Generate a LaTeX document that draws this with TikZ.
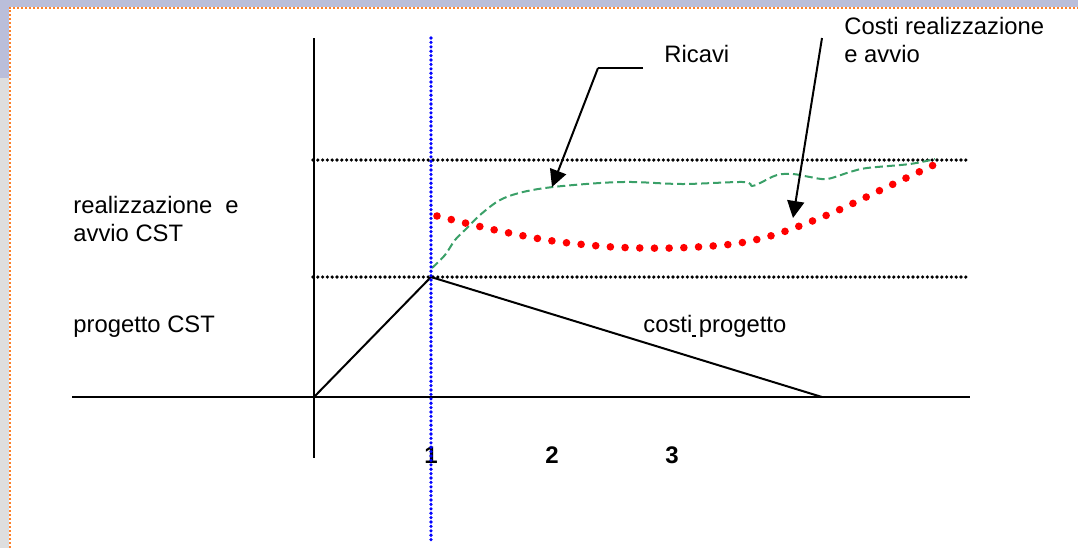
\documentclass[tikz,border=0pt]{standalone}
\usepackage{fontspec}
\setmainfont{Liberation Sans}
\usetikzlibrary{arrows.meta}

\definecolor{slidebar}{RGB}{186,190,218}
\definecolor{slidegray}{RGB}{222,222,222}
\definecolor{slideedge}{RGB}{255,128,40}
\definecolor{ricavi}{RGB}{58,160,104}

\begin{document}
\begin{tikzpicture}[x=0.5pt, y=-0.5pt,
    lbl/.style={anchor=base west, inner sep=0pt, font=\fontsize{11.9}{14}\selectfont},
    num/.style={anchor=base, inner sep=0pt, font=\fontsize{12}{14}\selectfont\bfseries},
    arr/.style={-{Triangle[length=8.5pt,width=8.5pt]}, line width=1pt},
    axis/.style={line width=1pt},
    dotline/.style={line width=1.8pt, line cap=round, dash pattern=on 0pt off 2.4pt},
    bluedots/.style={blue, line width=1.8pt, line cap=round, dash pattern=on 0pt off 2.2pt},
    reddots/.style={red, line width=3.8pt, line cap=round, dash pattern=on 0pt off 7.35pt},
    greendash/.style={ricavi, line width=1pt, dash pattern=on 4pt off 2pt}
]
\useasboundingbox (0,0) rectangle (1078,548);
\fill[slidebar] (0,0) rectangle (1078,7);
\fill[slidebar] (0,0) rectangle (9,78);
\fill[slidegray] (0,78) rectangle (9,548);
\draw[slideedge, line width=1pt, dash pattern=on 1pt off 1pt] (9.5,548) -- (9.5,7.5) -- (1078,7.5);

\coordinate (O) at (314,397);
\coordinate (P) at (431,277);
\coordinate (E) at (822,397);
\coordinate (ytop) at (314,38);
\coordinate (ybot) at (314,458);
\coordinate (xl) at (72,397);
\coordinate (xr) at (970,397);
\coordinate (hi1) at (313,160);
\coordinate (hi2) at (970,160);
\coordinate (lo1) at (313,277);
\coordinate (lo2) at (968,277);
\coordinate (v1) at (431,38);
\coordinate (v2) at (431,543);
\coordinate (rk0) at (643,68);
\coordinate (rk) at (598,68);
\coordinate (rtip) at (552,187);
\coordinate (ck) at (822,38);
\coordinate (ctip) at (793,218);

\node[lbl] (ricavilbl) at (664,62) {Ricavi};
\node[lbl, align=left, anchor=north west] (costilbl) at (844,17) {Costi realizzazione\\e avvio};
\node[lbl, align=left, anchor=north west] (reallbl) at (73,196) {realizzazione\ \ e\\avvio CST};
\node[lbl] (proglbl) at (73,332) {progetto CST};
\node[lbl] (cproglbl) at (643,332) {costi\makebox[0pt][l]{\rule[-2.5pt]{1.6pt}{1.2pt}} progetto};
\node[num] (n1) at (431,463) {1};
\node[num] (n2) at (552,463) {2};
\node[num] (n3) at (672,463) {3};

\draw[axis] (ytop) -- (ybot);
\draw[axis] (xl) -- (xr);
\draw[dotline] (hi1) -- (hi2);
\draw[dotline] (lo1) -- (lo2);
\draw[axis] (O) -- (P) -- (E);

\draw[greendash] plot[smooth, tension=0.55] coordinates {(432,268) (445,255) (455,240) (467,228) (480,215) (500,200) (523,192) (553,187) (600,183) (633,182) (683,184) (743,182) (752,186) (760,183) (777,175) (793,174) (810,177) (827,179) (850,172) (867,168) (910,164) (935,159)};
\draw[reddots] plot[smooth] coordinates {(437,216) (495,230) (553,241) (613,247) (673,248) (733,244) (777,234) (832,213) (885,188) (940,162)};

\draw[bluedots] (v1) -- (v2);

\draw[line width=1pt] (rk0) -- (rk);
\draw[arr] (rk) -- (rtip);
\draw[arr] (ck) -- (ctip);
\end{tikzpicture}
\end{document}
